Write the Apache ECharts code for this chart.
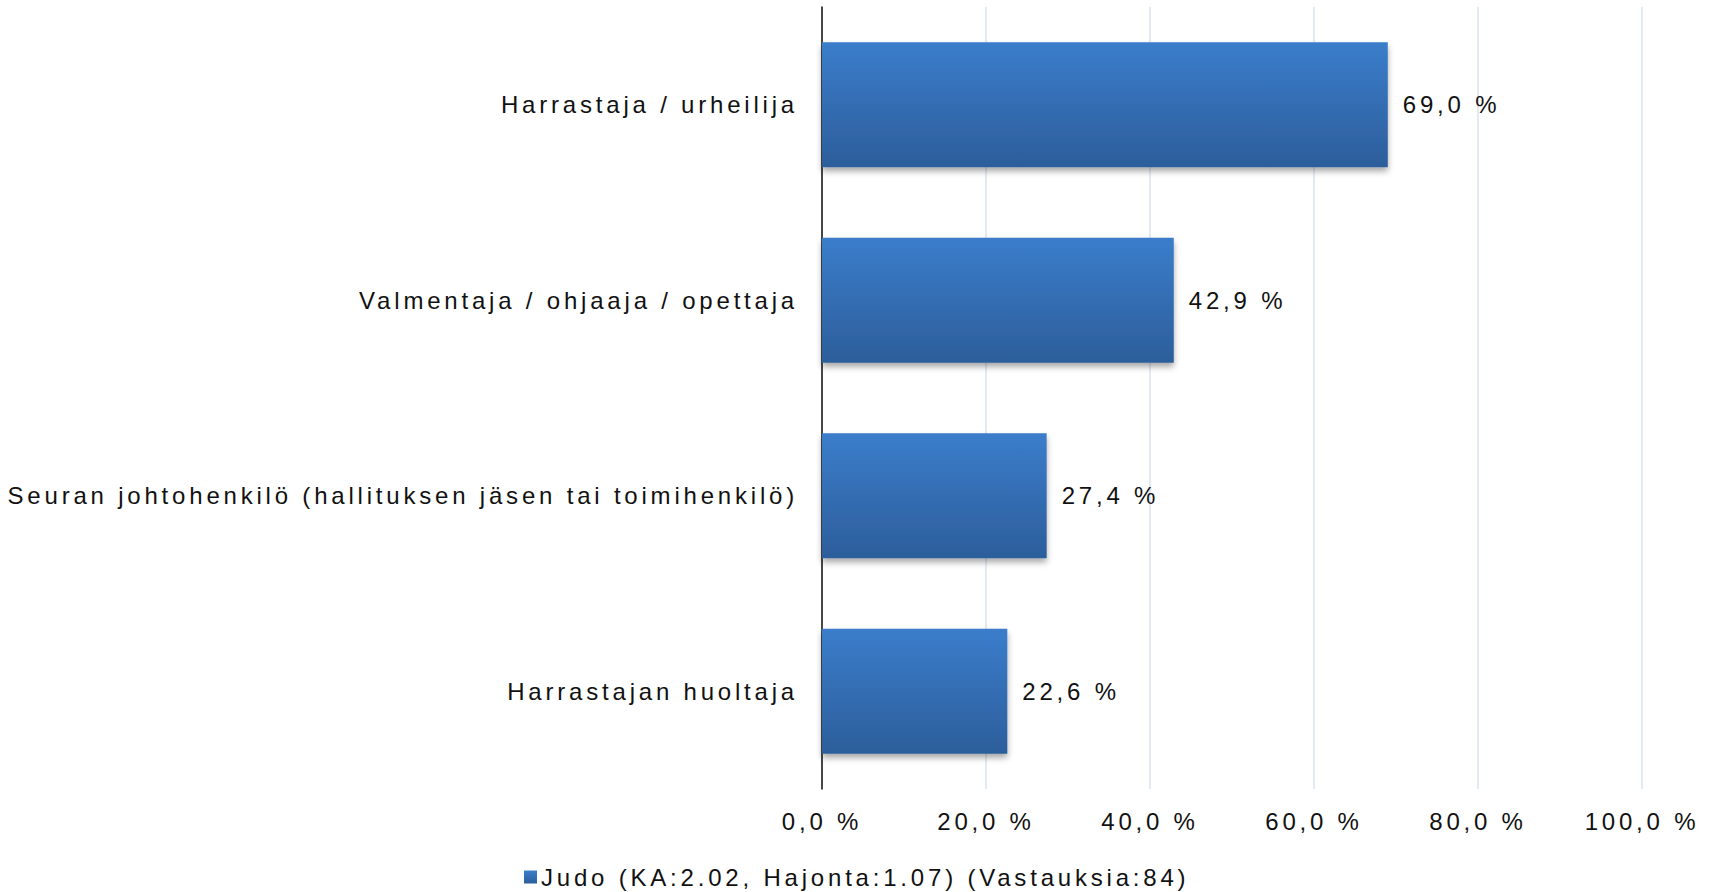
<!DOCTYPE html>
<html>
<head>
<meta charset="utf-8">
<script src="https://cdn.jsdelivr.net/npm/echarts@6/dist/echarts.min.js"></script>
<style>
    html, body { margin: 0; padding: 0; background: #fff; }
    #chart { width: 1719px; height: 892px; letter-spacing: 3.8px; }
</style>
</head>
<body>
<div id="chart"></div>
<script>
var categories = ['Harrastaja / urheilija', 'Valmentaja / ohjaaja / opettaja', 'Seuran johtohenkilö (hallituksen jäsen tai toimihenkilö)', 'Harrastajan huoltaja'];
var values = [69.0, 42.9, 27.4, 22.6];
var seriesName = 'Judo (KA:2.02, Hajonta:1.07) (Vastauksia:84)';
var xTicks = [0, 20, 40, 60, 80, 100];

function pct(v) {
    return v.toFixed(1).replace('.', ',') + ' %';
}

var chart = echarts.init(document.getElementById('chart'), null, { renderer: 'svg' });

var font = 'Liberation Sans, Arial, sans-serif';

var option = {
    backgroundColor: '#fff',
    animation: false,
    textStyle: { fontFamily: font },
    grid: {
        left: 822,
        right: 77,
        top: 7,
        bottom: 103
    },
    legend: {
        data: [seriesName],
        left: 519,
        top: 860,
        icon: 'rect',
        itemWidth: 13,
        itemHeight: 13,
        itemGap: 10,
        textStyle: { fontSize: 24, color: '#111', fontFamily: font, padding: [0, 0, 0, -1] }
    },
    xAxis: {
        type: 'value',
        min: xTicks[0],
        max: xTicks[xTicks.length - 1],
        interval: 20,
        axisLine: { show: false },
        axisTick: { show: false },
        splitLine: { lineStyle: { color: '#d9e4f1', width: 1.5 } },
        axisLabel: {
            formatter: pct,
            fontSize: 24,
            color: '#111',
            margin: 20,
            fontFamily: font
        }
    },
    yAxis: {
        type: 'category',
        data: categories,
        inverse: true,
        axisLine: { show: true, lineStyle: { color: '#111', width: 1.5 } },
        axisTick: { show: false },
        axisLabel: {
            fontSize: 24,
            color: '#111',
            margin: 24,
            fontFamily: font
        }
    },
    series: [{
        name: seriesName,
        type: 'bar',
        data: values,
        barCategoryGap: '36%',
        itemStyle: {
            color: new echarts.graphic.LinearGradient(0, 0, 0, 1, [
                { offset: 0, color: '#3b7dcb' },
                { offset: 1, color: '#2c5e9b' }
            ]),
            shadowColor: 'rgba(0,0,0,0.35)',
            shadowBlur: 6,
            shadowOffsetY: 4
        },
        label: {
            show: true,
            position: 'right',
            distance: 15,
            formatter: function (p) { return pct(p.value); },
            fontSize: 24,
            color: '#111',
            fontFamily: font
        }
    }]
};

chart.setOption(option);
</script>
</body>
</html>
